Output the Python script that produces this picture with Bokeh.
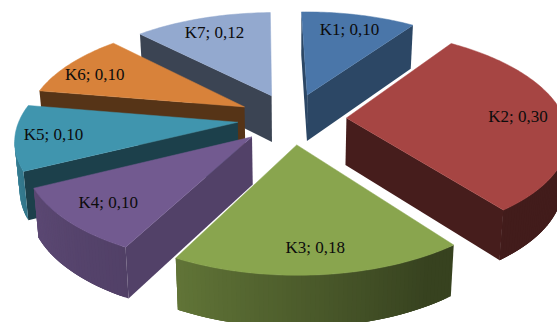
import numpy as np
from bokeh.core.properties import value
from bokeh.embed import file_html
from bokeh.models import ColumnDataSource
from bokeh.plotting import figure
from bokeh.resources import INLINE

# Slices of the exploded pie, clockwise from twelve o'clock
KEYS = ["K1", "K2", "K3", "K4", "K5", "K6", "K7"]
SHARES = [0.10, 0.30, 0.18, 0.10, 0.10, 0.10, 0.12]
LABELS = ["K1; 0,10", "K2; 0,30", "K3; 0,18", "K4; 0,10", "K5; 0,10", "K6; 0,10", "K7; 0,12"]
TOP_COLORS = ["#4a76a9", "#a64543", "#89a54e", "#725a90", "#4095ae", "#d8823a", "#93a9cf"]

# Brightness of each slice's flat cut faces relative to its top
CUT_LEVELS = [0.60, 0.42, 0.50, 0.72, 0.43, 0.40, 0.40]
# How far along its radius each slice carries its label, and how many degrees off the middle
LABEL_REACH = [0.80, 0.79, 0.82, 0.80, 0.83, 0.82, 0.80]
LABEL_TURN = [0, 0, 0, 0, 0, -3, 0]

# Projection of the tilted disc onto the page
CX, CY = 291.5, 118.0
RX, RY = 218.0, 102.0
PERSPECTIVE = 0.15
EXPLODE = 0.25
DEPTH = 47.0
TAPER = 0.982
ROTATION = -1.2

# Rim brightness relative to the top face, by compass angle of the rim
LIGHT_ANGLES = [90, 150, 210, 245, 275]
LIGHT_LEVELS = [0.40, 0.40, 0.72, 0.80, 0.92]


def project(u, v):
    w = 1 + PERSPECTIVE * v
    return CX + RX * u / w, CY - RY * v / w


def drop(pt, v):
    # Lower edge of a wall under a point of the top face
    w = 1 + PERSPECTIVE * v
    return CX + (pt[0] - CX) * TAPER, pt[1] + DEPTH / np.sqrt(w)


def shade(color, level):
    rgb = [int(color[i:i + 2], 16) for i in (1, 3, 5)]
    return "#" + "".join(f"{int(round(c * level)):02x}" for c in rgb)


p = figure(width=557, height=322, x_range=(0, 557), y_range=(322, 0),
           output_backend="svg", toolbar_location=None, min_border=0)
p.axis.visible = False
p.grid.visible = False
p.outline_line_color = None

bounds = np.concatenate([[0], np.cumsum(SHARES)]) / np.sum(SHARES) * 360 + ROTATION
mids = (bounds[:-1] + bounds[1:]) / 2

# Far slices are painted first so nearer ones cover them
order = np.argsort(-np.cos(np.radians(mids)))

label_x, label_y = [], []
for i in range(len(KEYS)):
    m = np.radians(mids[i])
    t = np.radians(mids[i] + LABEL_TURN[i])
    u = EXPLODE * np.sin(m) + LABEL_REACH[i] * np.sin(t)
    v = EXPLODE * np.cos(m) + LABEL_REACH[i] * np.cos(t)
    x, y = project(u, v)
    label_x.append(x)
    label_y.append(y)

for i in order:
    color = TOP_COLORS[i]
    m = np.radians(mids[i])
    ax, av = EXPLODE * np.sin(m), EXPLODE * np.cos(m)
    thetas = np.linspace(bounds[i], bounds[i + 1], max(8, int(bounds[i + 1] - bounds[i]) + 1))
    rad = np.radians(thetas)
    us = ax + np.sin(rad)
    vs = av + np.cos(rad)
    rim = [project(a, b) for a, b in zip(us, vs)]
    apex = project(ax, av)

    xs, ys, fills = [], [], []

    def wall(pa, va, pb, vb, fill):
        # A wall shows only when its top edge runs right to left on the clockwise boundary
        if pb[0] >= pa[0]:
            return
        qa, qb = drop(pa, va), drop(pb, vb)
        xs.append([pa[0], pb[0], qb[0], qa[0]])
        ys.append([pa[1], pb[1], qb[1], qa[1]])
        fills.append(fill)

    cut = shade(color, CUT_LEVELS[i])
    wall(apex, av, rim[0], vs[0], cut)
    wall(rim[-1], vs[-1], apex, av, cut)

    # Each rim strip reaches into the next one, which then overpaints the join
    last = len(rim) - 1
    for j in range(last):
        k = min(j + 3, last)
        level = np.interp((thetas[j] + thetas[j + 1]) / 2, LIGHT_ANGLES, LIGHT_LEVELS)
        if rim[j + 1][0] < rim[j][0]:
            wall(rim[j], vs[j], rim[k], vs[k], shade(color, level))

    if xs:
        src = ColumnDataSource(dict(x=xs, y=ys, c=fills))
        p.patches("x", "y", source=src, fill_color="c", line_color=None)

    p.patch([apex[0]] + [r[0] for r in rim], [apex[1]] + [r[1] for r in rim],
            fill_color=color, line_color=color, line_width=0.5)

p.text(label_x, label_y, text=LABELS, text_font=value("Liberation Serif"), text_font_size="17px",
       text_color="#0c0c0c", text_align="center", text_baseline="middle")

open("out.html", "w").write(file_html(p, INLINE))
